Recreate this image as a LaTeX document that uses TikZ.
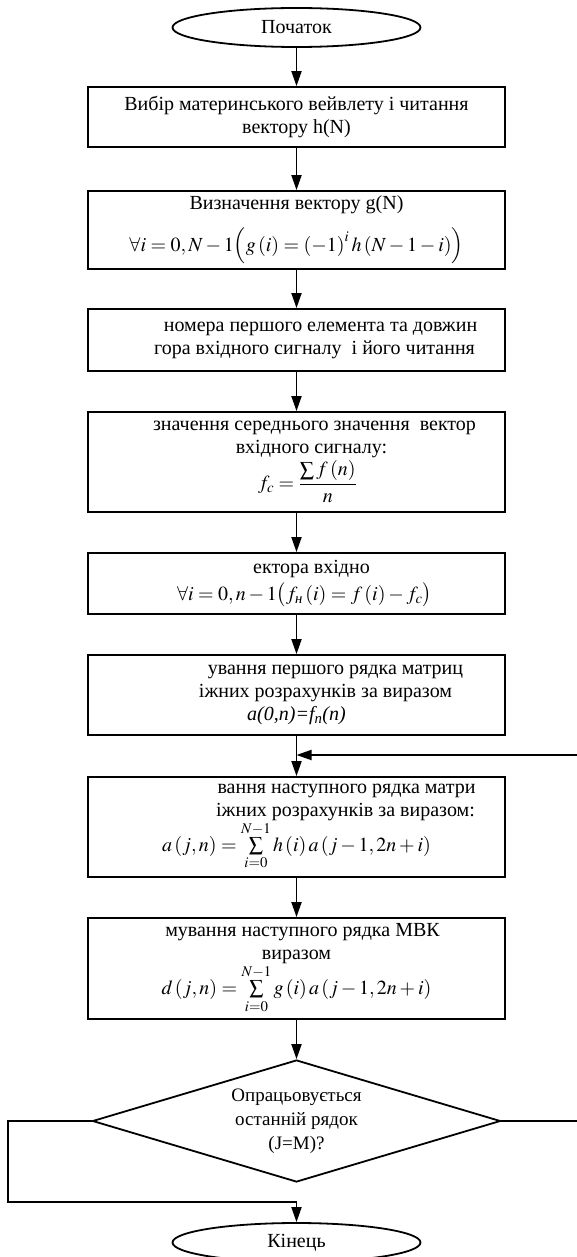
\documentclass[tikz,border=0pt]{standalone}
\usepackage{amsmath}
\usepackage{mathptmx}
\usepackage{fontspec}
\setmainfont{Liberation Serif}
\usetikzlibrary{arrows.meta,shapes.geometric,positioning}

\begin{document}
\begin{tikzpicture}[x=1pt, y=-1pt,
    blk/.style={draw, line width=1.8pt, minimum width=417pt, align=center, inner sep=0pt, font=\fontsize{20}{23}\selectfont},
    term/.style={draw, ellipse, line width=1.8pt, minimum width=248pt, minimum height=39pt, inner sep=0pt, font=\fontsize{20}{23}\selectfont},
    cond/.style={draw, diamond, line width=1.8pt, minimum width=408pt, minimum height=122pt, shape aspect=3.34, inner sep=0pt, align=center, font=\fontsize{19}{24}\selectfont},
    arr/.style={-{Triangle[length=15pt,width=10pt]}, line width=1.8pt}
]
\useasboundingbox (0,0) rectangle (577,1257);

\node[term] (start) at (296.5,27.5) {Початок};
\node[blk, minimum height=60pt] (vybir) at (296.5,117) {Вибір материнського вейвлету і читання\\вектору h(N)};
\node[blk, minimum height=78pt] (gvek) at (296.5,230) {Визначення вектору g(N)\\[13pt]$\forall i=0,N-1\Bigl(g\left(i\right)=\left(-1\right)^i h\left(N-1-i\right)\Bigr)$};
\node[blk, minimum height=62pt] (vvod) at (296.5,340) {\hspace*{48pt}номера першого елемента та довжин\\\hspace*{36pt}гора вхідного сигналу\ \ і його читання};
\node[blk, minimum height=100pt] (seredn) at (296.5,462) {\hspace*{36pt}значення середнього значення\ \ вектор\\\hspace*{30pt}вхідного сигналу:\\[2pt]\hspace*{22pt}$f_c=\dfrac{\sum f\left(n\right)}{n}$};
\node[blk, minimum height=61pt] (centr) at (296.5,583.5) {\hspace*{30pt}ектора вхідно\\[4pt]\hspace*{16pt}$\forall i=0,n-1\bigl(f_{\text{\itshape н}}\left(i\right)=f\left(i\right)-f_c\bigr)$};
\node[blk, minimum height=80pt] (rjad0) at (296.5,695) {\hspace*{78pt}ування першого рядка матриц\\\hspace*{58pt}іжних розрахунків за виразом\\\textit{a(0,n)=f\textsubscript{n}(n)}};
\node[blk, minimum height=100pt] (rjada) at (296.5,827) {\hspace*{100pt}вання наступного рядка матри\\\hspace*{98pt}іжних розрахунків за виразом:\\$a\left(j,n\right)=\sum\limits_{i=0}^{N-1}h\left(i\right)a\left(j-1,2n+i\right)$};
\node[blk, minimum height=101pt] (rjadd) at (296.5,968.5) {\hspace*{12pt}мування наступного рядка МВК\\виразом\\$d\left(j,n\right)=\sum\limits_{i=0}^{N-1}g\left(i\right)a\left(j-1,2n+i\right)$};
\node[cond] (test) at (296.5,1121) {Опрацьовується\\останній рядок\\(J=M)?};
\node[term] (stop) at (296.5,1242.5) {Кінець};

\coordinate (join) at (296.5,755);
\coordinate (rgt) at (585,1121);
\coordinate (lft) at (8,1202);

\draw[arr] (start) -- (vybir);
\draw[arr] (vybir) -- (gvek);
\draw[arr] (gvek) -- (vvod);
\draw[arr] (vvod) -- (seredn);
\draw[arr] (seredn) -- (centr);
\draw[arr] (centr) -- (rjad0);
\draw[arr] (rjad0) -- (rjada);
\draw[arr] (rjada) -- (rjadd);
\draw[arr] (rjadd) -- (test);
\draw[arr] (test.east) -- (rgt) |- (join);
\draw[arr] (test.west) -| (lft) -| (stop);
\end{tikzpicture}
\end{document}
